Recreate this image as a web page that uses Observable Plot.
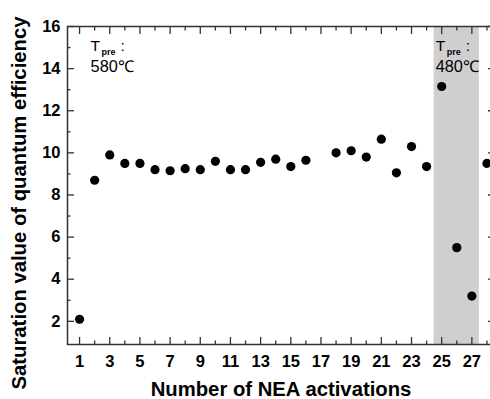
<!DOCTYPE html>
<html><head><meta charset="utf-8">
<script src="https://cdn.jsdelivr.net/npm/d3@7"></script>
<script src="https://cdn.jsdelivr.net/npm/@observablehq/plot@0.6"></script>
<style>
html,body{margin:0;padding:0;overflow:hidden;background:#fff;}
#chart svg{display:block;max-width:none !important;}
</style></head><body><div id="chart"></div>
<script>
const activations = [1,2,3,4,5,6,7,8,9,10,11,12,13,14,15,16,18,19,20,21,22,23,24,25,26,27,28];
const efficiency  = [2.1,8.7,9.9,9.5,9.5,9.2,9.15,9.25,9.2,9.6,9.2,9.2,9.55,9.7,9.35,9.65,10.0,10.1,9.8,10.65,9.05,10.3,9.35,13.15,5.5,3.2,9.5];
const xMajorTicks = [1,3,5,7,9,11,13,15,17,19,21,23,25,27];
const xMinorTicks = [2,4,6,8,10,12,14,16,18,20,22,24,26,28];
const yMajorTicks = [2,4,6,8,10,12,14,16];
const yMinorTicks = [3,5,7,9,11,13,15];
const bandStart = [24.5];
const bandEnd = [27.5];
const annotationX = [1.73, 24.6];
const annotationTemp = ["580℃", "480℃"];
const xTitle = "Number of NEA activations";
const yTitle = "Saturation value of quantum efficiency";

const points = activations.map((a, i) => ({a, q: efficiency[i]}));
const band = bandStart.map((s, i) => ({s, e: bandEnd[i]}));
const annots = annotationX.map((x, i) => ({x, t: annotationTemp[i]}));

const font = "'Liberation Sans', Arial, sans-serif";
const axisStroke = "#333";
const tk = {fill: "none", stroke: axisStroke, strokeWidth: 1.3, label: null};

const chart = Plot.plot({
  width: 495, height: 399,
  marginLeft: 67, marginRight: 1, marginTop: 26, marginBottom: 55,
  style: {fontFamily: font, background: "#fff", color: "#000"},
  x: {domain: [0.2, 28.5]},
  y: {domain: [0.9, 16]},
  marks: [
    Plot.rect(band, {x1: "s", x2: "e", fill: "#d0cfd0"}),
    Plot.dot(points, {x: "a", y: "q", r: 4.6, fill: "#000", stroke: "none"}),
    Plot.frame({stroke: axisStroke, strokeWidth: 1.5}),
    // bottom ticks (inward)
    Plot.axisX(xMajorTicks, {anchor: "bottom", tickSize: 7, dy: -7, ...tk}),
    Plot.axisX(xMinorTicks, {anchor: "bottom", tickSize: 3.5, dy: -3.5, ...tk}),
    Plot.axisX(xMajorTicks, {anchor: "bottom", tickSize: 0, tickPadding: 11, fontSize: 16.5, fontWeight: "bold", label: null, tickFormat: d => String(d)}),
    // top ticks (inward)
    Plot.axisX(xMajorTicks, {anchor: "top", tickSize: 7, dy: 7, ...tk}),
    Plot.axisX(xMinorTicks, {anchor: "top", tickSize: 3.5, dy: 3.5, ...tk}),
    // left ticks (inward)
    Plot.axisY(yMajorTicks, {anchor: "left", tickSize: 7, dx: 7, ...tk}),
    Plot.axisY(yMinorTicks, {anchor: "left", tickSize: 3.5, dx: 3.5, ...tk}),
    Plot.axisY(yMajorTicks, {anchor: "left", tickSize: 0, tickPadding: 7, fontSize: 16.5, fontWeight: "bold", label: null, tickFormat: d => String(d)}),
    // right ticks (inward)
    Plot.axisY(yMajorTicks, {anchor: "right", tickSize: 7, dx: -7, ...tk}),
    Plot.axisY(yMinorTicks, {anchor: "right", tickSize: 3.5, dx: -3.5, ...tk}),
    // titles
    Plot.text([xTitle], {text: d => d, frameAnchor: "bottom", dx: 0, dy: 37, lineAnchor: "top", textAnchor: "middle", fontSize: 20.3, fontWeight: "bold", fill: "#000"}),
    Plot.text([yTitle], {text: d => d, frameAnchor: "left", rotate: -90, dx: -56, dy: 17.5, lineAnchor: "top", textAnchor: "middle", fontSize: 20.3, fontWeight: "bold", fill: "#000"}),
    // annotations
    Plot.text(annots, {x: "x", text: () => "T", frameAnchor: "top", dy: 19.5, lineAnchor: "middle", textAnchor: "start", fontSize: 15.5, fill: "#000"}),
    Plot.text(annots, {x: "x", text: () => "pre", frameAnchor: "top", dx: 11, dy: 25.5, lineAnchor: "middle", textAnchor: "start", fontSize: 9, fontWeight: "bold", fill: "#000"}),
    Plot.text(annots, {x: "x", text: () => ":", frameAnchor: "top", dx: 30, dy: 19.5, lineAnchor: "middle", textAnchor: "start", fontSize: 15.5, fill: "#000"}),
    Plot.text(annots, {x: "x", text: "t", frameAnchor: "top", dy: 40, lineAnchor: "middle", textAnchor: "start", fontSize: 16.3, fill: "#000"})
  ]
});
document.getElementById("chart").appendChild(chart);
</script>
</body></html>
